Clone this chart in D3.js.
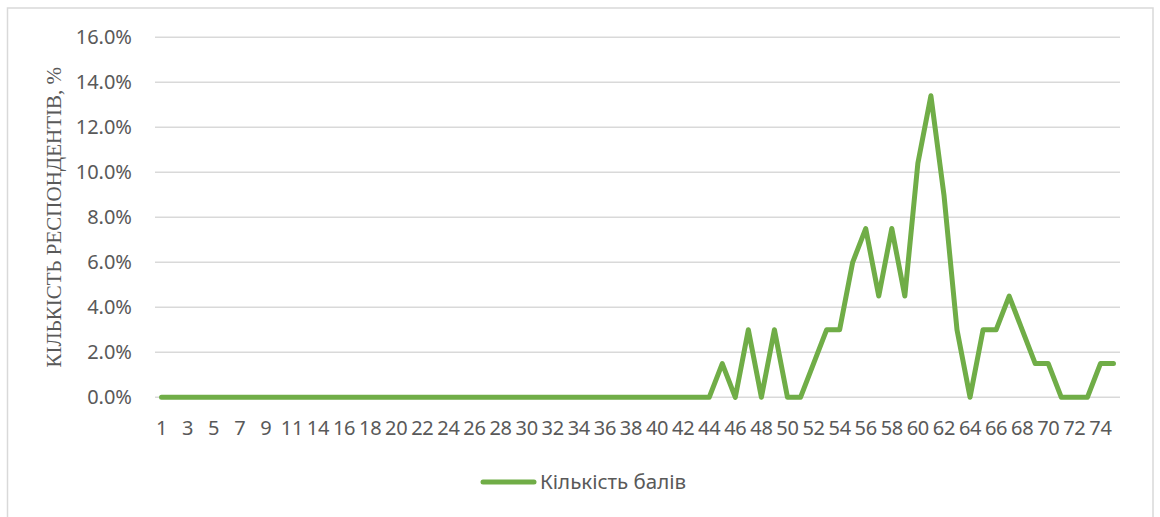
<!DOCTYPE html>
<html>
<head>
<meta charset="utf-8">
<script src="https://cdn.jsdelivr.net/npm/d3@7"></script>
<style>
html,body{margin:0;padding:0;background:#fff;}
svg{display:block;}
</style>
</head>
<body>
<svg id="chart" width="1160" height="517"></svg>
<script>
// Categories (score values); 13 is absent in the source axis
const categories = [1,2,3,4,5,6,7,8,9,10,11,12,14,15,16,17,18,19,20,21,22,23,24,25,26,27,28,29,30,31,32,33,34,35,36,37,38,39,40,41,42,43,44,45,46,47,48,49,50,51,52,53,54,55,56,57,58,59,60,61,62,63,64,65,66,67,68,69,70,71,72,73,74,75];
// Share of respondents, %
const values = [0,0,0,0,0,0,0,0,0,0,0,0,0,0,0,0,0,0,0,0,0,0,0,0,0,0,0,0,0,0,0,0,0,0,0,0,0,0,0,0,0,0,0,
  1.5,0,3.0,0,3.0,0,0,1.5,3.0,3.0,6.0,7.5,4.5,7.5,4.5,10.4,13.4,9.0,3.0,0,3.0,3.0,4.5,3.0,1.5,1.5,0,0,0,1.5,1.5];
const yTicks = [0,2,4,6,8,10,12,14,16];
const seriesName = "Кількість балів";
const yTitle = "КІЛЬКІСТЬ РЕСПОНДЕНТІВ, %";

const svg = d3.select("#chart");
const plotL = 155, plotR = 1120, plotT = 37.3, plotB = 397.3;

// chart border
svg.append("rect").attr("x",7.5).attr("y",8).attr("width",1145.5).attr("height",520)
  .attr("fill","none").attr("stroke","#d9d9d9").attr("stroke-width",1.5);

const x = d3.scaleBand().domain(categories).range([plotL, plotR]);
const y = d3.scaleLinear().domain([0,16]).range([plotB, plotT]);

// gridlines
svg.append("g").selectAll("line").data(yTicks).join("line")
  .attr("x1",plotL).attr("x2",plotR)
  .attr("y1",d=>y(d)).attr("y2",d=>y(d))
  .attr("stroke","#d9d9d9").attr("stroke-width",1.5);

// y axis labels
const yAxis = d3.axisLeft(y).tickValues(yTicks).tickSize(0).tickPadding(0)
  .tickFormat(d=>d.toFixed(1)+"%");
const gy = svg.append("g").attr("transform","translate(132,0)").call(yAxis);
gy.select(".domain").remove();
gy.selectAll("text").attr("fill","#595959").style("font-family","'Noto Sans', sans-serif").style("font-size","20px");

// x axis labels (every other category)
const xAxis = d3.axisBottom(x).tickSize(0).tickPadding(0)
  .tickFormat((d,i)=> i%2===0 ? d : "");
const gx = svg.append("g").attr("transform",`translate(0,${plotB+23.5})`).call(xAxis);
gx.select(".domain").remove();
gx.selectAll("text").attr("fill","#595959").attr("dy","0.71em")
  .style("font-family","'Noto Sans', sans-serif").style("font-size","20px").style("letter-spacing","-0.3px");

// line
const line = d3.line()
  .x((d,i)=>x(categories[i]) + x.bandwidth()/2)
  .y(d=>y(d));
svg.append("path").datum(values)
  .attr("d",line).attr("fill","none")
  .attr("stroke","#70ad47").attr("stroke-width",5)
  .attr("stroke-linejoin","round").attr("stroke-linecap","round");

// y title
svg.append("text")
  .attr("transform",`translate(61,${(plotB+plotT)/2}) rotate(-90)`)
  .attr("text-anchor","middle")
  .attr("fill","#595959")
  .style("font-family","'Liberation Serif', 'Times New Roman', serif")
  .style("font-size","21px")
  .text(yTitle);

// legend
const lg = svg.append("g");
lg.append("line").attr("x1",483).attr("x2",534).attr("y1",482).attr("y2",482)
  .attr("stroke","#70ad47").attr("stroke-width",5).attr("stroke-linecap","round");
lg.append("text").attr("x",540).attr("y",482).attr("dy","0.35em")
  .attr("fill","#595959")
  .style("font-family","'Noto Sans', sans-serif").style("font-size","20.5px")
  .text(seriesName);
</script>
</body>
</html>
